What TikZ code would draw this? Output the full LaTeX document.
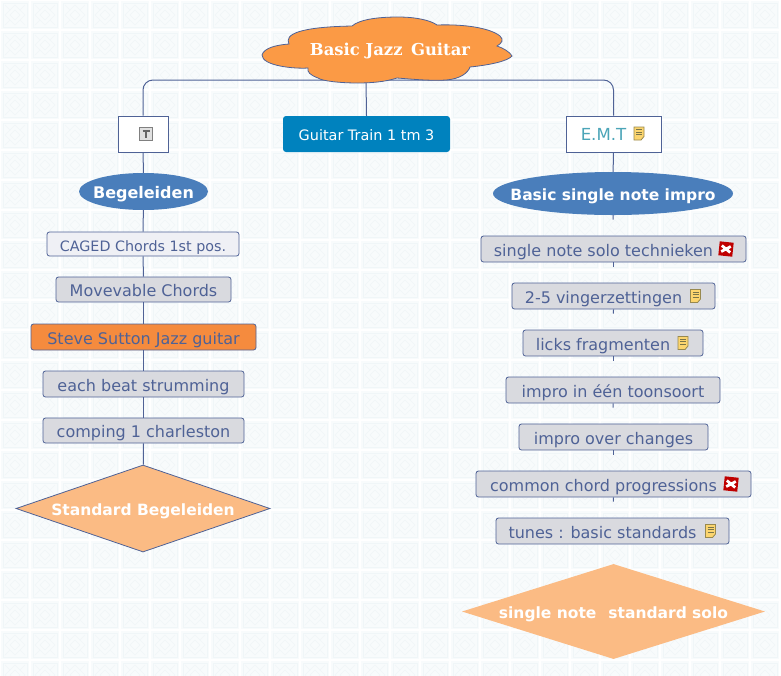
\documentclass[tikz,border=0pt]{standalone}
\usepackage{fontspec}
\setmainfont{DejaVu Sans}
\newfontfamily\slabfont{DejaVu Serif}
\usetikzlibrary{calc,shapes.geometric}
\definecolor{inkblue}{HTML}{4F6296}
\definecolor{boxgrey}{HTML}{D9DADF}
\definecolor{palegrey}{HTML}{EFF0F5}
\definecolor{rootorange}{HTML}{FB9A45}
\definecolor{hotorange}{HTML}{F58B3E}
\definecolor{peach}{HTML}{FBBB84}
\definecolor{ovalblue}{HTML}{4A7EBB}
\definecolor{trainblue}{HTML}{0082BE}
\definecolor{emtteal}{HTML}{4BA5B8}
\definecolor{tilefill}{HTML}{F8FBFC}
\definecolor{tileline}{HTML}{F0F6F8}
\newcommand{\iconkern}{\kern20pt}
\tikzset{
	link/.style={draw=inkblue,line width=1pt},
	ticklink/.style={link,shorten >=16pt},
	topic/.style={draw=inkblue,rectangle,rounded corners=2.5pt,line width=0.8pt,fill=boxgrey,text=inkblue,font=\fontsize{16}{18}\selectfont,inner sep=0pt,text height=16pt,text depth=2pt},
	subject/.style={draw=inkblue,rectangle,line width=0.8pt,fill=white,inner sep=0pt},
	oval/.style={ellipse,fill=ovalblue,text=white,inner sep=0pt,font=\fontsize{15.5}{18}\selectfont\bfseries,text height=15pt,text depth=2pt},
	goal/.style={diamond,aspect=3.1,fill=peach,text=white,inner sep=0pt,font=\fontsize{15.5}{18}\selectfont\bfseries,text height=15pt,text depth=2pt},
	bgtile/.pic={
		\fill[tilefill] (1,1) rectangle (29,29);
		\draw[tileline,line width=0.8pt] (3,3) rectangle (27,27);
		\draw[tileline,line width=0.6pt] (15,5) -- (25,15) -- (15,25) -- (5,15) -- cycle;
		\draw[tileline,line width=0.6pt] (5,5) -- (10,10) (25,5) -- (20,10) (25,25) -- (20,20) (5,25) -- (10,20);
		\draw[tileline,line width=0.6pt] (15,10) -- (20,15) -- (15,20) -- (10,15) -- cycle;
	},
	noteicon/.pic={
		\draw[draw=black!55!yellow!70!brown,fill=yellow!45!orange!55!white,line width=0.8pt] (-5,-6.5) -- (5,-6.5) -- (5,3) -- (2,6.5) -- (-5,6.5) -- cycle;
		\draw[black!60!yellow,line width=0.6pt] (-3,-4) -- (3,-4) (-3,-1.5) -- (3,-1.5) (-3,1) -- (3,1);
	},
	crossicon/.pic={
		\fill[red!75!black,rotate=-6] (-7,-7) rectangle (7,7);
		\draw[white,line width=2.8pt,rotate=-6] (-4.5,-3) -- (4.5,3) (-4.5,3) -- (4.5,-3);
	},
	texticon/.pic={
		\draw[draw=gray,fill=black!12,line width=0.8pt] (-6.5,-6.5) rectangle (6.5,6.5);
		\draw[black!60,line width=1.6pt] (-3.5,-3) -- (3.5,-3) (0,-3) -- (0,4);
	},
}
\begin{document}
\begin{tikzpicture}[x=1pt,y=-1pt]
	\useasboundingbox (0,0) rectangle (781,675);
	\fill[white] (0,0) rectangle (781,675);
	\foreach \i in {0,...,26}{
		\foreach \j in {0,...,22}{
			\pic at (30*\i,30*\j) {bgtile};
		}
	}

	\node[subject,minimum width=50pt,minimum height=36pt] (notes) at (143,134) {};
	\node[rectangle,rounded corners=3pt,fill=trainblue,text=white,minimum width=167pt,minimum height=36pt,inner sep=0pt,font=\fontsize{14.4}{18}\selectfont,text height=14pt,text depth=2pt] (train) at (366.5,134) {Guitar Train 1 tm 3};
	\node[subject,minimum width=95pt,minimum height=36pt,text=emtteal,font=\fontsize{16.6}{18}\selectfont,text height=15pt,text depth=2pt] (emt) at (613.5,134) {E.M.T\iconkern};
	\pic at (146,134) {texticon};
	\pic at (639,133.5) {noteicon};

	% left column
	\node[oval,minimum width=129pt,minimum height=37pt] (begeleiden) at (143.5,191.5) {\makebox[0pt]{\fontsize{16}{18}\selectfont Begeleiden}};
	\node[topic,fill=palegrey,minimum width=192pt,minimum height=24pt,font=\fontsize{14.3}{16}\selectfont] (caged) at (143,244) {CAGED Chords 1st pos.};
	\node[topic,minimum width=175pt,minimum height=25pt] (movevable) at (143.5,289.5) {Movevable Chords};
	\node[topic,fill=hotorange,minimum width=225pt,minimum height=26pt] (sutton) at (143.5,337) {Steve Sutton Jazz guitar};
	\node[topic,minimum width=201pt,minimum height=26pt] (strumming) at (143.5,384) {each beat strumming};
	\node[topic,minimum width=201pt,minimum height=25pt] (comping) at (143.5,430.5) {comping 1 charleston};
	\node[goal,draw=inkblue,line width=0.8pt,minimum width=254pt,minimum height=87pt] (stdbegeleiden) at (143,508.5) {Standard Begeleiden};

	% right column
	\node[oval,minimum width=240pt,minimum height=43pt] (basic) at (613,193.5) {\makebox[0pt]{Basic single note impro}};
	\node[topic,minimum width=265pt,minimum height=26pt] (technieken) at (613.5,249) {single note solo technieken\iconkern};
	\node[topic,minimum width=203pt,minimum height=26pt] (vinger) at (613.5,296) {2-5 vingerzettingen\iconkern};
	\node[topic,minimum width=180pt,minimum height=26pt] (licks) at (613,343) {licks fragmenten\iconkern};
	\node[topic,minimum width=214pt,minimum height=26pt] (toonsoort) at (613,390) {impro in één toonsoort};
	\node[topic,minimum width=189pt,minimum height=26pt] (changes) at (613.5,437) {impro over changes};
	\node[topic,minimum width=275pt,minimum height=26pt] (progressions) at (613.5,484) {common chord progressions\iconkern};
	\node[topic,minimum width=233pt,minimum height=26pt] (tunes) at (612.5,531) {tunes : basic standards\iconkern};
	\node[goal,aspect=3.19,minimum width=303pt,minimum height=95pt] (stdsolo) at (613.5,611.5) {single note\hspace{12pt}standard solo};
	\pic at (726,249) {crossicon};
	\pic at (695.5,296) {noteicon};
	\pic at (683,343) {noteicon};
	\pic at (731,484) {crossicon};
	\pic at (710.5,531) {noteicon};

	% connectors
	\coordinate (spine) at (366,80);
	\draw[link,rounded corners=10pt] (notes.north) |- (spine) -| (emt.north);
	\draw[link] (spine) -- (train.north);
	\foreach \a/\b in {notes/begeleiden,begeleiden/caged,caged/movevable,movevable/sutton,sutton/strumming,strumming/comping,comping/stdbegeleiden}{
		\draw[link] (\a) -- (\b);
	}
	\draw[link] (emt) -- (basic);
	\foreach \a/\b in {basic/technieken,technieken/vinger,vinger/licks,licks/toonsoort,toonsoort/changes,changes/progressions,progressions/tunes}{
		\draw[ticklink] (\a.south) -- (\b.north);
	}

	% cloud
	\draw[fill=rootorange,draw=inkblue,line width=0.8pt]
		(262,55) .. controls (264,48) and (276,45) .. (289,44)
		.. controls (284,34) and (300,27) .. (352,26)
		.. controls (360,19) and (380,17) .. (398,17)
		.. controls (415,17) and (430,20) .. (437,25)
		.. controls (465,24) and (490,28) .. (500,36)
		.. controls (504,40) and (502,43) .. (497,46)
		.. controls (503,48) and (510,52) .. (512,56)
		.. controls (508,61) and (490,65) .. (470,67)
		.. controls (468,73) and (460,79) .. (446,80)
		.. controls (430,81) and (410,79) .. (397,78)
		.. controls (385,82) and (370,83) .. (358,83)
		.. controls (340,83) and (322,81) .. (318,78)
		.. controls (310,75) and (307,72) .. (308,68)
		.. controls (295,69) and (262,66) .. (262,55) -- cycle;
	\node[text=white,font=\fontsize{16.4}{18}\slabfont\bfseries] (root) at (390,51) {Basic Jazz\, Guitar};
\end{tikzpicture}
\end{document}
